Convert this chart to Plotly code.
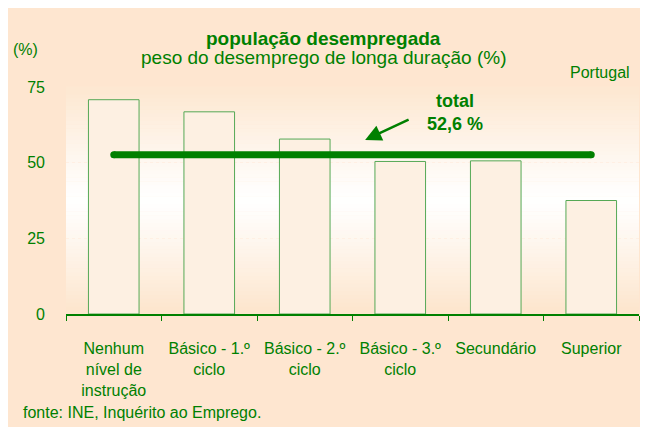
import plotly.graph_objects as go

categories = ["Nenhum nível de instrução", "Básico - 1.º ciclo", "Básico - 2.º ciclo",
              "Básico - 3.º ciclo", "Secundário", "Superior"]
tick_labels = ["Nenhum<br>nível de<br>instrução", "Básico - 1.º<br>ciclo", "Básico - 2.º<br>ciclo",
               "Básico - 3.º<br>ciclo", "Secundário", "Superior"]
values = [70.8, 66.8, 57.8, 50.4, 50.6, 37.5]
total = 52.6
y_ticks = [0, 25, 50, 75]

GREEN = "#008000"
PEACH = (254, 230, 208)
FONT = "Liberation Sans, Arial, sans-serif"

fig = go.Figure()

fig.add_trace(go.Bar(
    x=categories, y=values,
    marker=dict(color="#FDF0E2", line=dict(color="#55A855", width=1)),
    width=0.53, showlegend=False, hoverinfo="x+y",
))

fig.add_trace(go.Scatter(
    x=[categories[0], categories[-1]], y=[total, total],
    mode="lines+markers",
    line=dict(color=GREEN, width=7),
    marker=dict(color=GREEN, size=7, line=dict(width=0)),
    showlegend=False, hoverinfo="y",
))

shapes = []
# plot area gradient (peach -> white -> peach)
n = 60
top_c = (253, 232, 210)
bot_c = (253, 230, 206)
for i in range(n):
    t = (i + 0.5) / n
    if t >= 0.5:
        m = (t - 0.5) / 0.5
        c0 = top_c
    else:
        m = (0.5 - t) / 0.5
        c0 = bot_c
    m = min(1.0, m ** 1.1 * 1.05)
    col = tuple(round(255 + (c0[k] - 255) * m) for k in range(3))
    shapes.append(dict(type="rect", xref="paper", yref="paper", x0=0, x1=1,
                       y0=i / n, y1=(i + 1) / n + 0.002,
                       fillcolor="rgb(%d,%d,%d)" % col, line=dict(width=0), layer="below"))

fig.update_layout(
    width=648, height=427,
    margin=dict(l=57.5, r=16.5, t=79, b=120.7),
    paper_bgcolor="rgb(%d,%d,%d)" % PEACH,
    plot_bgcolor="rgba(0,0,0,0)",
    shapes=shapes,
    bargap=0.47,
    font=dict(family=FONT, color=GREEN, size=16),
    xaxis=dict(
        tickvals=categories, ticktext=tick_labels,
        showline=True, linecolor=GREEN, linewidth=1.5,
        ticks="outside", tickson="boundaries", ticklen=5, tickcolor=GREEN, tickwidth=1,
        tickfont=dict(size=16, color=GREEN, family=FONT),
        ticklabelstandoff=19,
        showgrid=False, zeroline=False,
    ),
    yaxis=dict(
        range=[0, 75], tickvals=y_ticks,
        showline=False, ticks="", zeroline=False,
        showgrid=True, gridcolor="rgba(255,238,225,0.9)", gridwidth=1, griddash="dot",
        tickfont=dict(size=16, color=GREEN, family=FONT),
        ticklabelstandoff=20,
    ),
    annotations=[
        dict(xref="paper", yref="paper", x=0.449, y=1.212, text="<b>população desempregada</b>",
             showarrow=False, xanchor="center", yanchor="middle",
             font=dict(size=19, color=GREEN, family=FONT)),
        dict(xref="paper", yref="paper", x=0.449, y=1.128, text="peso do desemprego de longa duração (%)",
             showarrow=False, xanchor="center", yanchor="middle",
             font=dict(size=19, color=GREEN, family=FONT)),
        dict(xref="paper", yref="paper", x=-0.0706, y=1.163, text="(%)",
             showarrow=False, xanchor="center", yanchor="middle",
             font=dict(size=16, color=GREEN, family=FONT)),
        dict(xref="paper", yref="paper", x=0.987, y=1.066, text="Portugal",
             showarrow=False, xanchor="right", yanchor="middle",
             font=dict(size=16, color=GREEN, family=FONT)),
        dict(xref="paper", yref="paper", x=-0.0784, y=-0.433, text="fonte: INE, Inquérito ao Emprego.",
             showarrow=False, xanchor="left", yanchor="middle",
             font=dict(size=16, color=GREEN, family=FONT)),
        dict(xref="paper", yref="paper", x=0.679, y=0.886,
             text="<b>total<br>%s %%</b>" % ("%.1f" % total).replace(".", ","),
             showarrow=False, xanchor="center", yanchor="middle",
             font=dict(size=18, color=GREEN, family=FONT)),
        dict(xref="paper", yref="paper", x=0.522, y=0.767, ax=45, ay=-21,
             text="", showarrow=True,
             arrowhead=2, arrowsize=1.3, arrowwidth=2.5, arrowcolor=GREEN),
    ],
)

fig.write_html("out.html")
